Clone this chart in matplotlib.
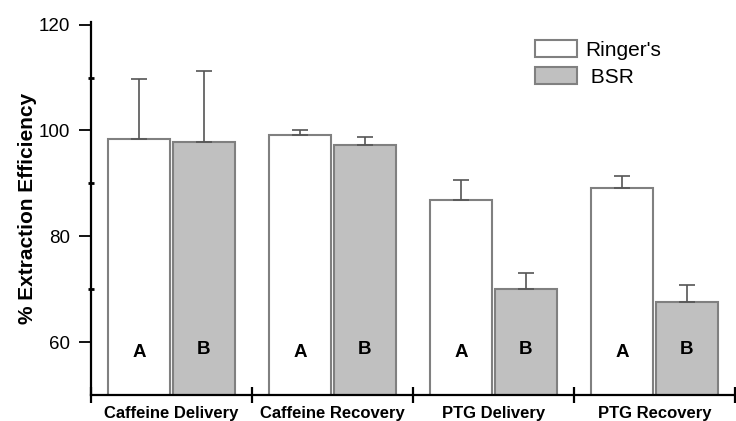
import numpy as np
import matplotlib
matplotlib.use('Agg')
import matplotlib.pyplot as plt
from matplotlib.ticker import FixedLocator, NullFormatter

plt.rcParams['font.family'] = ['Liberation Sans', 'DejaVu Sans']

groups = ['Caffeine Delivery', 'Caffeine Recovery', 'PTG Delivery', 'PTG Recovery']
ringers = [98.3, 99.2, 86.9, 89.2]
ringers_err = [11.4, 0.8, 3.7, 2.1]
bsr = [97.9, 97.2, 70.0, 67.5]
bsr_err = [13.4, 1.5, 3.0, 3.3]
letters = ['A', 'B']

fig = plt.figure(figsize=(7.36, 4.21), dpi=100)
ax = fig.add_axes([0.1236, 0.0618, 0.875, 0.886])

x = np.arange(len(groups)) + 0.5
w = 0.385
edge = '#808080'

ax.bar(x - 0.2, ringers, w, bottom=0, color='white', edgecolor=edge,
       linewidth=1.5, label="Ringer's", zorder=2)
ax.bar(x + 0.2, bsr, w, bottom=0, color='#c0c0c0', edgecolor=edge,
       linewidth=1.5, label=' BSR', zorder=2)

# upper error bars only
ax.errorbar(x - 0.2, ringers, yerr=[np.zeros(4), ringers_err], fmt='none',
            ecolor='#555555', elinewidth=1.2, capsize=6, capthick=1.2, zorder=3)
ax.errorbar(x + 0.2, bsr, yerr=[np.zeros(4), bsr_err], fmt='none',
            ecolor='#555555', elinewidth=1.2, capsize=6, capthick=1.2, zorder=3)

for xi in x:
    ax.text(xi - 0.2, 58.1, letters[0], ha='center', va='center',
            fontsize=13.5, fontweight='bold', zorder=4)
    ax.text(xi + 0.2, 58.6, letters[1], ha='center', va='center',
            fontsize=13.5, fontweight='bold', zorder=4)

ax.set_xlim(0, 4)
ax.set_ylim(50, 120.5)

for s in ['top', 'right']:
    ax.spines[s].set_visible(False)
for s in ['left', 'bottom']:
    ax.spines[s].set_linewidth(1.6)
    ax.spines[s].set_color('black')

ax.yaxis.set_major_locator(FixedLocator([60, 80, 100, 120]))
ax.yaxis.set_minor_locator(FixedLocator([70, 90, 110]))
ax.tick_params(axis='y', which='major', direction='out', length=9, width=1.3,
               labelsize=13.5, pad=6)
ax.tick_params(axis='y', which='minor', direction='inout', length=5, width=2)

ax.xaxis.set_major_locator(FixedLocator([0, 1, 2, 3, 4]))
ax.xaxis.set_major_formatter(NullFormatter())
ax.xaxis.set_minor_locator(FixedLocator(x))
ax.set_xticklabels(groups, minor=True)
ax.tick_params(axis='x', which='major', direction='inout', length=12, width=1.6)
ax.tick_params(axis='x', which='minor', length=0, pad=8, labelsize=12)
for lab in ax.get_xticklabels(minor=True):
    lab.set_fontweight('bold')

ax.set_ylabel('% Extraction Efficiency', fontsize=15, fontweight='bold', labelpad=1)

ax.legend(loc='upper left', bbox_to_anchor=(535 / 736, 1 - 40 / 421),
          bbox_transform=fig.transFigure, frameon=False, fontsize=15,
          handlelength=2.0, handleheight=0.9, handletextpad=0.4,
          labelspacing=0.35, borderpad=0, borderaxespad=0)

fig.savefig('out.png', dpi=100)
